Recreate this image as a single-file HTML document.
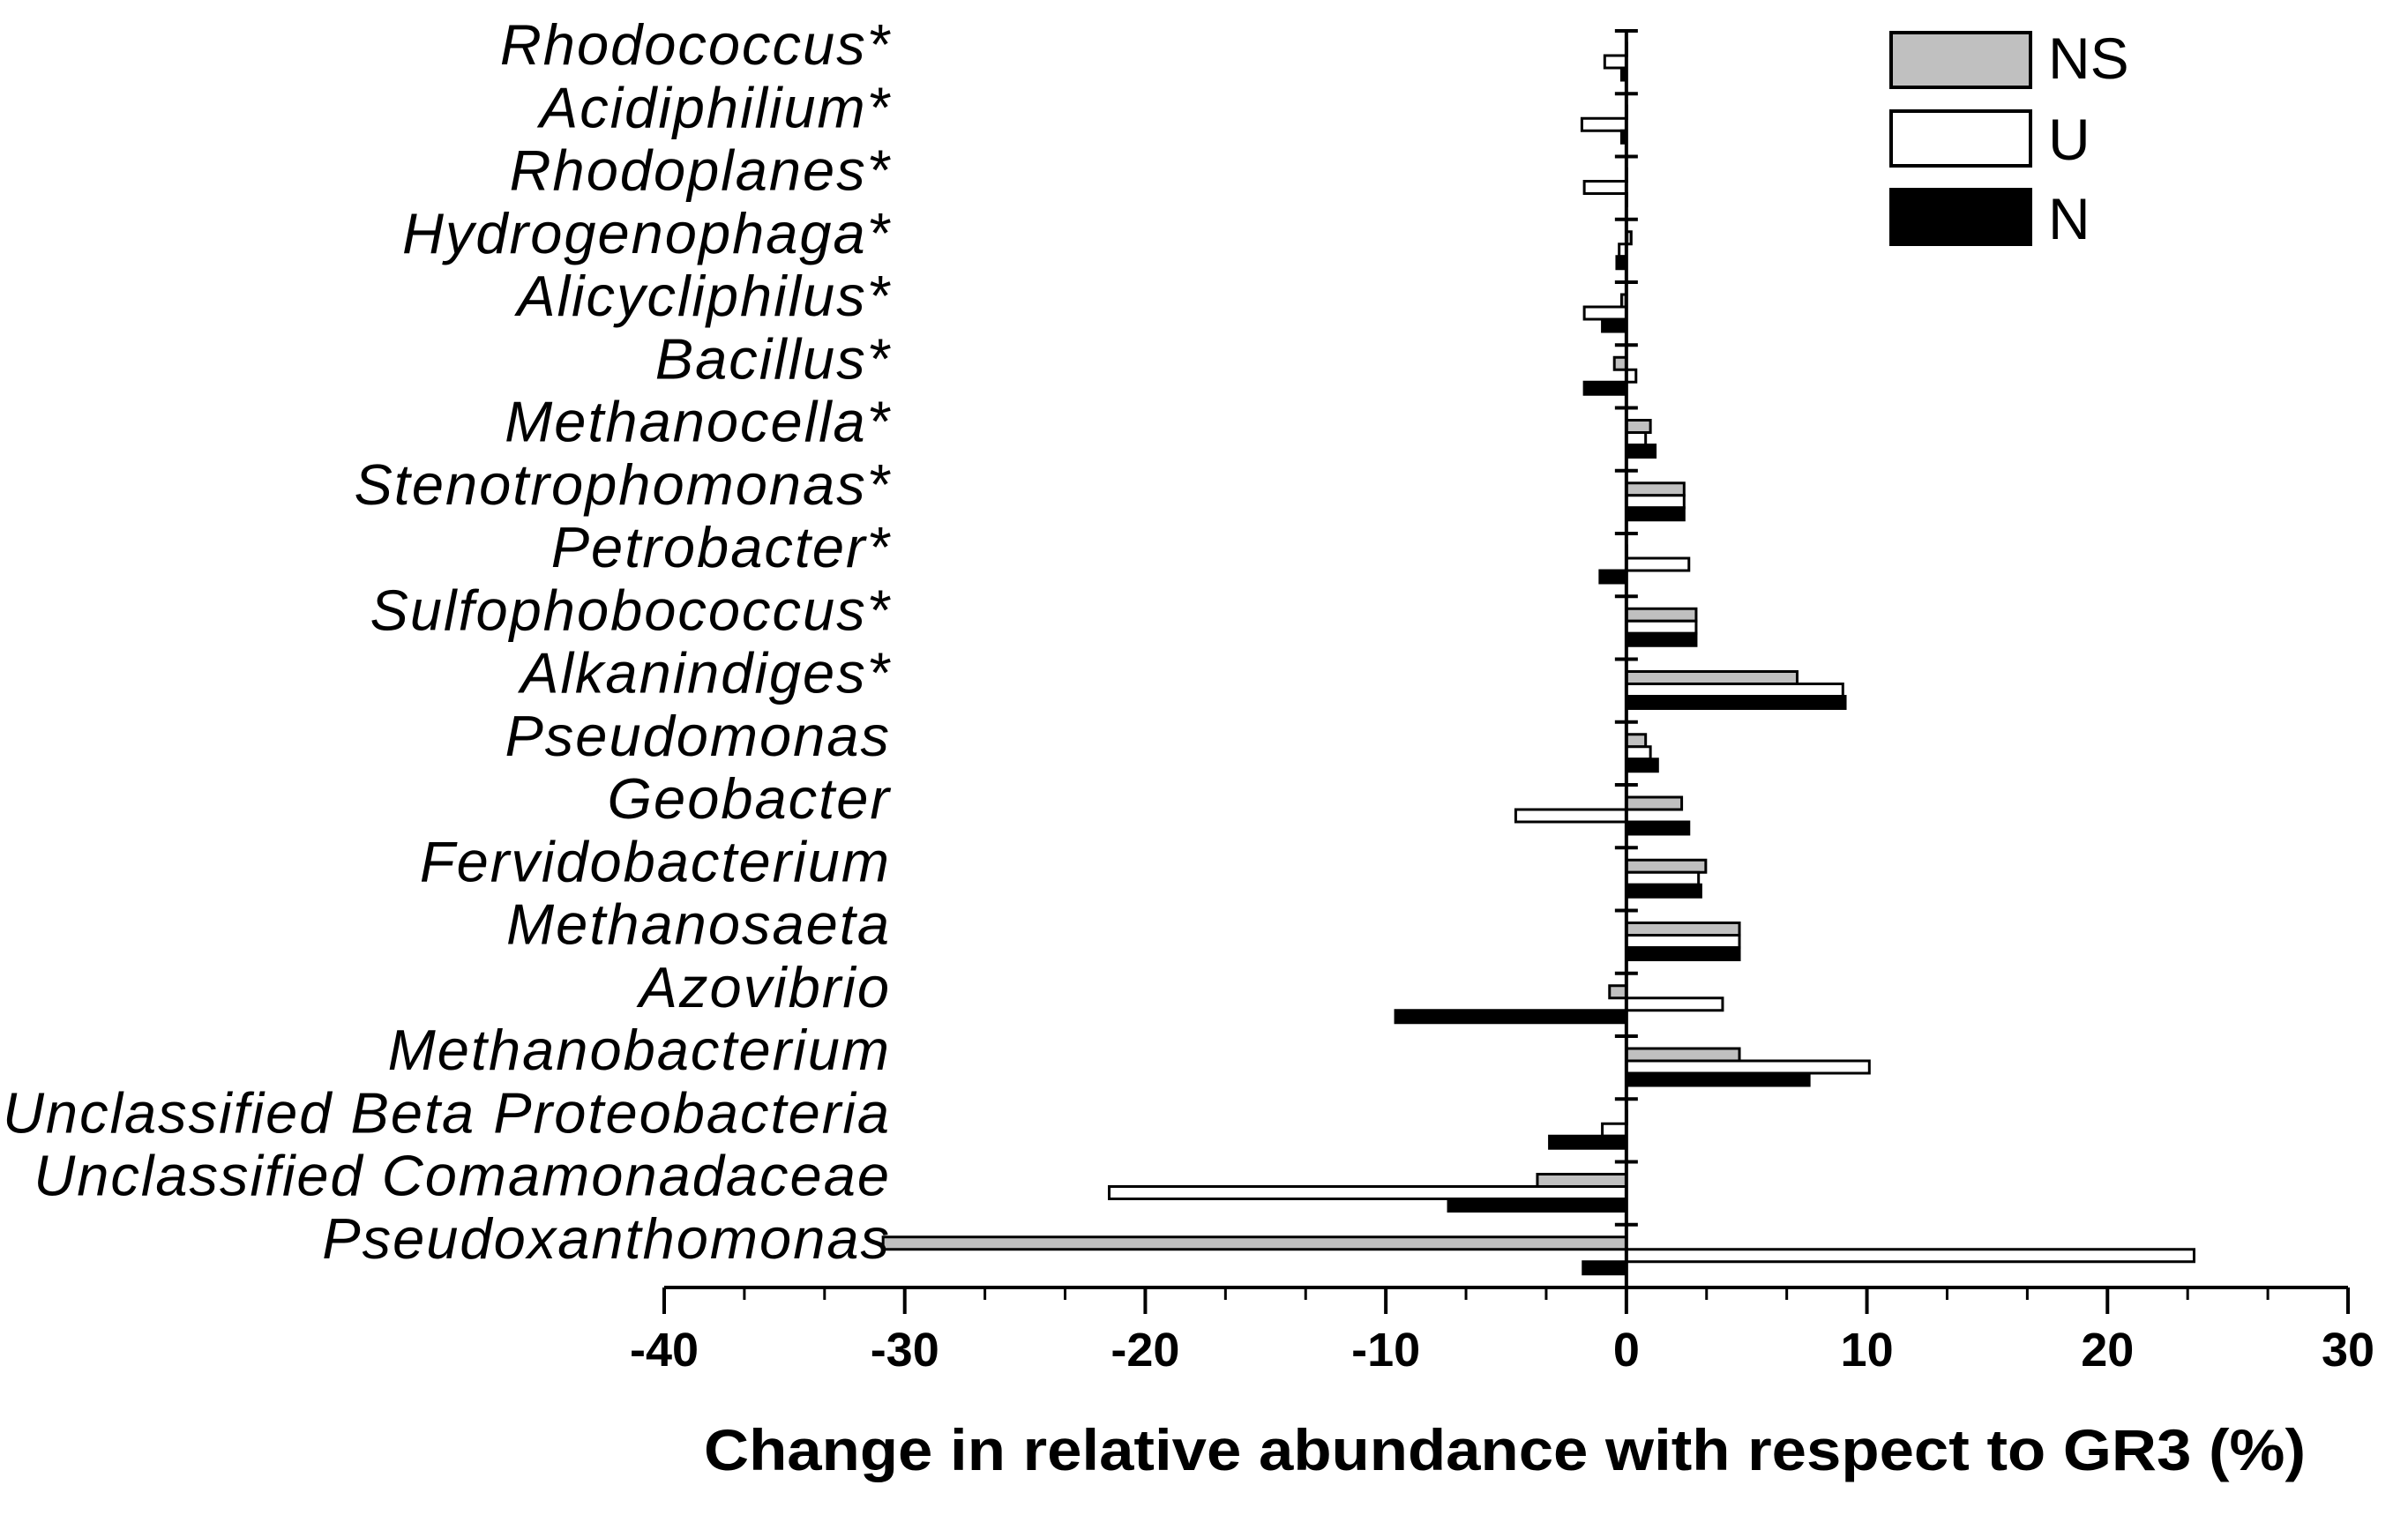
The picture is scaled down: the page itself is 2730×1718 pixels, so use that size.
<!DOCTYPE html>
<html><head><meta charset="utf-8">
<style>
html,body{margin:0;padding:0;background:#fff;}
svg{display:block;}
</style></head>
<body>
<svg id="chart" width="2730" height="1718" viewBox="0 0 2730 1718" xmlns="http://www.w3.org/2000/svg" font-family="Liberation Sans, Arial, sans-serif">
<g id="bars"></g>
<g id="yaxis"></g>
<g id="xaxis"></g>
<text x="1706" y="1667" text-anchor="middle" font-weight="bold" font-size="66" textLength="1816" lengthAdjust="spacingAndGlyphs">Change in relative abundance with respect to GR3 (%)</text>
<g>
  <rect x="2144" y="37" width="158" height="62" fill="#c0c0c0" stroke="#000" stroke-width="4"/>
  <text x="2322" y="89" font-size="66">NS</text>
  <rect x="2144" y="126" width="158" height="62" fill="#fff" stroke="#000" stroke-width="4"/>
  <text x="2322" y="181" font-size="66">U</text>
  <rect x="2144" y="215" width="158" height="62" fill="#000" stroke="#000" stroke-width="4"/>
  <text x="2322" y="271" font-size="66">N</text>
</g>
</svg>
<script>
const categories = ["Rhodococcus*","Acidiphilium*","Rhodoplanes*","Hydrogenophaga*","Alicycliphilus*","Bacillus*","Methanocella*","Stenotrophomonas*","Petrobacter*","Sulfophobococcus*","Alkanindiges*","Pseudomonas","Geobacter","Fervidobacterium","Methanosaeta","Azovibrio","Methanobacterium","Unclassified Beta Proteobacteria","Unclassified Comamonadaceae","Pseudoxanthomonas"];
const nsValues = [0,0,0,0.2,-0.2,-0.5,1.0,2.4,0,2.9,7.1,0.8,2.3,3.3,4.7,-0.7,4.7,0,-3.7,-30.9];
const uValues = [-0.9,-1.85,-1.75,-0.3,-1.75,0.4,0.8,2.4,2.6,2.9,9.0,1.0,-4.6,3.0,4.7,4.0,10.1,-1.0,-21.5,23.6];
const nValues = [-0.2,-0.2,0,-0.4,-1.0,-1.75,1.2,2.4,-1.1,2.9,9.1,1.3,2.6,3.1,4.7,-9.6,7.6,-3.2,-7.4,-1.8];
const xTicks = [-40,-30,-20,-10,0,10,20,30];
const xTickLabels = ["-40","-30","-20","-10","0","10","20","30"];

const NS = "http://www.w3.org/2000/svg";
const X0 = 753, X1 = 2662, XMIN = -40, XMAX = 30;
const xs = v => X0 + (v - XMIN) / (XMAX - XMIN) * (X1 - X0);
const YTOP = 35, AXY = 1460, SLOT = (AXY - YTOP) / categories.length;
function mk(tag, attrs, parent){ const e=document.createElementNS(NS,tag); for(const k in attrs) e.setAttribute(k,attrs[k]); parent.appendChild(e); return e; }

const bars = document.getElementById('bars');
const series = [[nsValues,'#c0c0c0','ns'],[uValues,'#fff','u'],[nValues,'#000','n']];
categories.forEach((c,i)=>{
  const top = YTOP + i*SLOT + 14;
  series.forEach((s,j)=>{
    const v = s[0][i];
    const xa = xs(Math.min(0,v)), xb = xs(Math.max(0,v));
    const r = mk('rect',{x:xa,y:top+j*14,width:Math.max(xb-xa,0.5),height:14,fill:s[1],stroke:'#000','stroke-width':3},bars);
    
    
  });
});

const ya = document.getElementById('yaxis');
const x0 = xs(0);
const yl = mk('line',{x1:x0,y1:YTOP,x2:x0,y2:AXY,stroke:'#000','stroke-width':4},ya);


for(let i=0;i<categories.length;i++){
  const y = YTOP + i*SLOT;
  const t = mk('line',{x1:x0-13,y1:y,x2:x0+13,y2:y,stroke:'#000','stroke-width':4},ya);
  
  
  const lb = mk('text',{x:1010,y:YTOP+i*SLOT+38,'text-anchor':'end','font-size':65,'font-style':'italic','letter-spacing':2,fill:'#000'},ya);
  lb.textContent = categories[i];
  
  
}

const xa = document.getElementById('xaxis');
const xl = mk('line',{x1:X0,y1:AXY,x2:X1,y2:AXY,stroke:'#000','stroke-width':4},xa);


for(let v=XMIN; v<=XMAX+0.01; v+=10/3){
  const x = xs(v);
  const t = mk('line',{x1:x,y1:AXY,x2:x,y2:AXY+14,stroke:'#000','stroke-width':3},xa);
  
  
}
xTicks.forEach((v,i)=>{
  const x = xs(v);
  const t = mk('line',{x1:x,y1:AXY,x2:x,y2:AXY+30,stroke:'#000','stroke-width':4},xa);
  
  
  const lb = mk('text',{x:x,y:1549,'text-anchor':'middle','font-size':54,'font-weight':'bold',fill:'#000'},xa);
  lb.textContent = xTickLabels[i];
  
  
});
</script>
</body></html>
